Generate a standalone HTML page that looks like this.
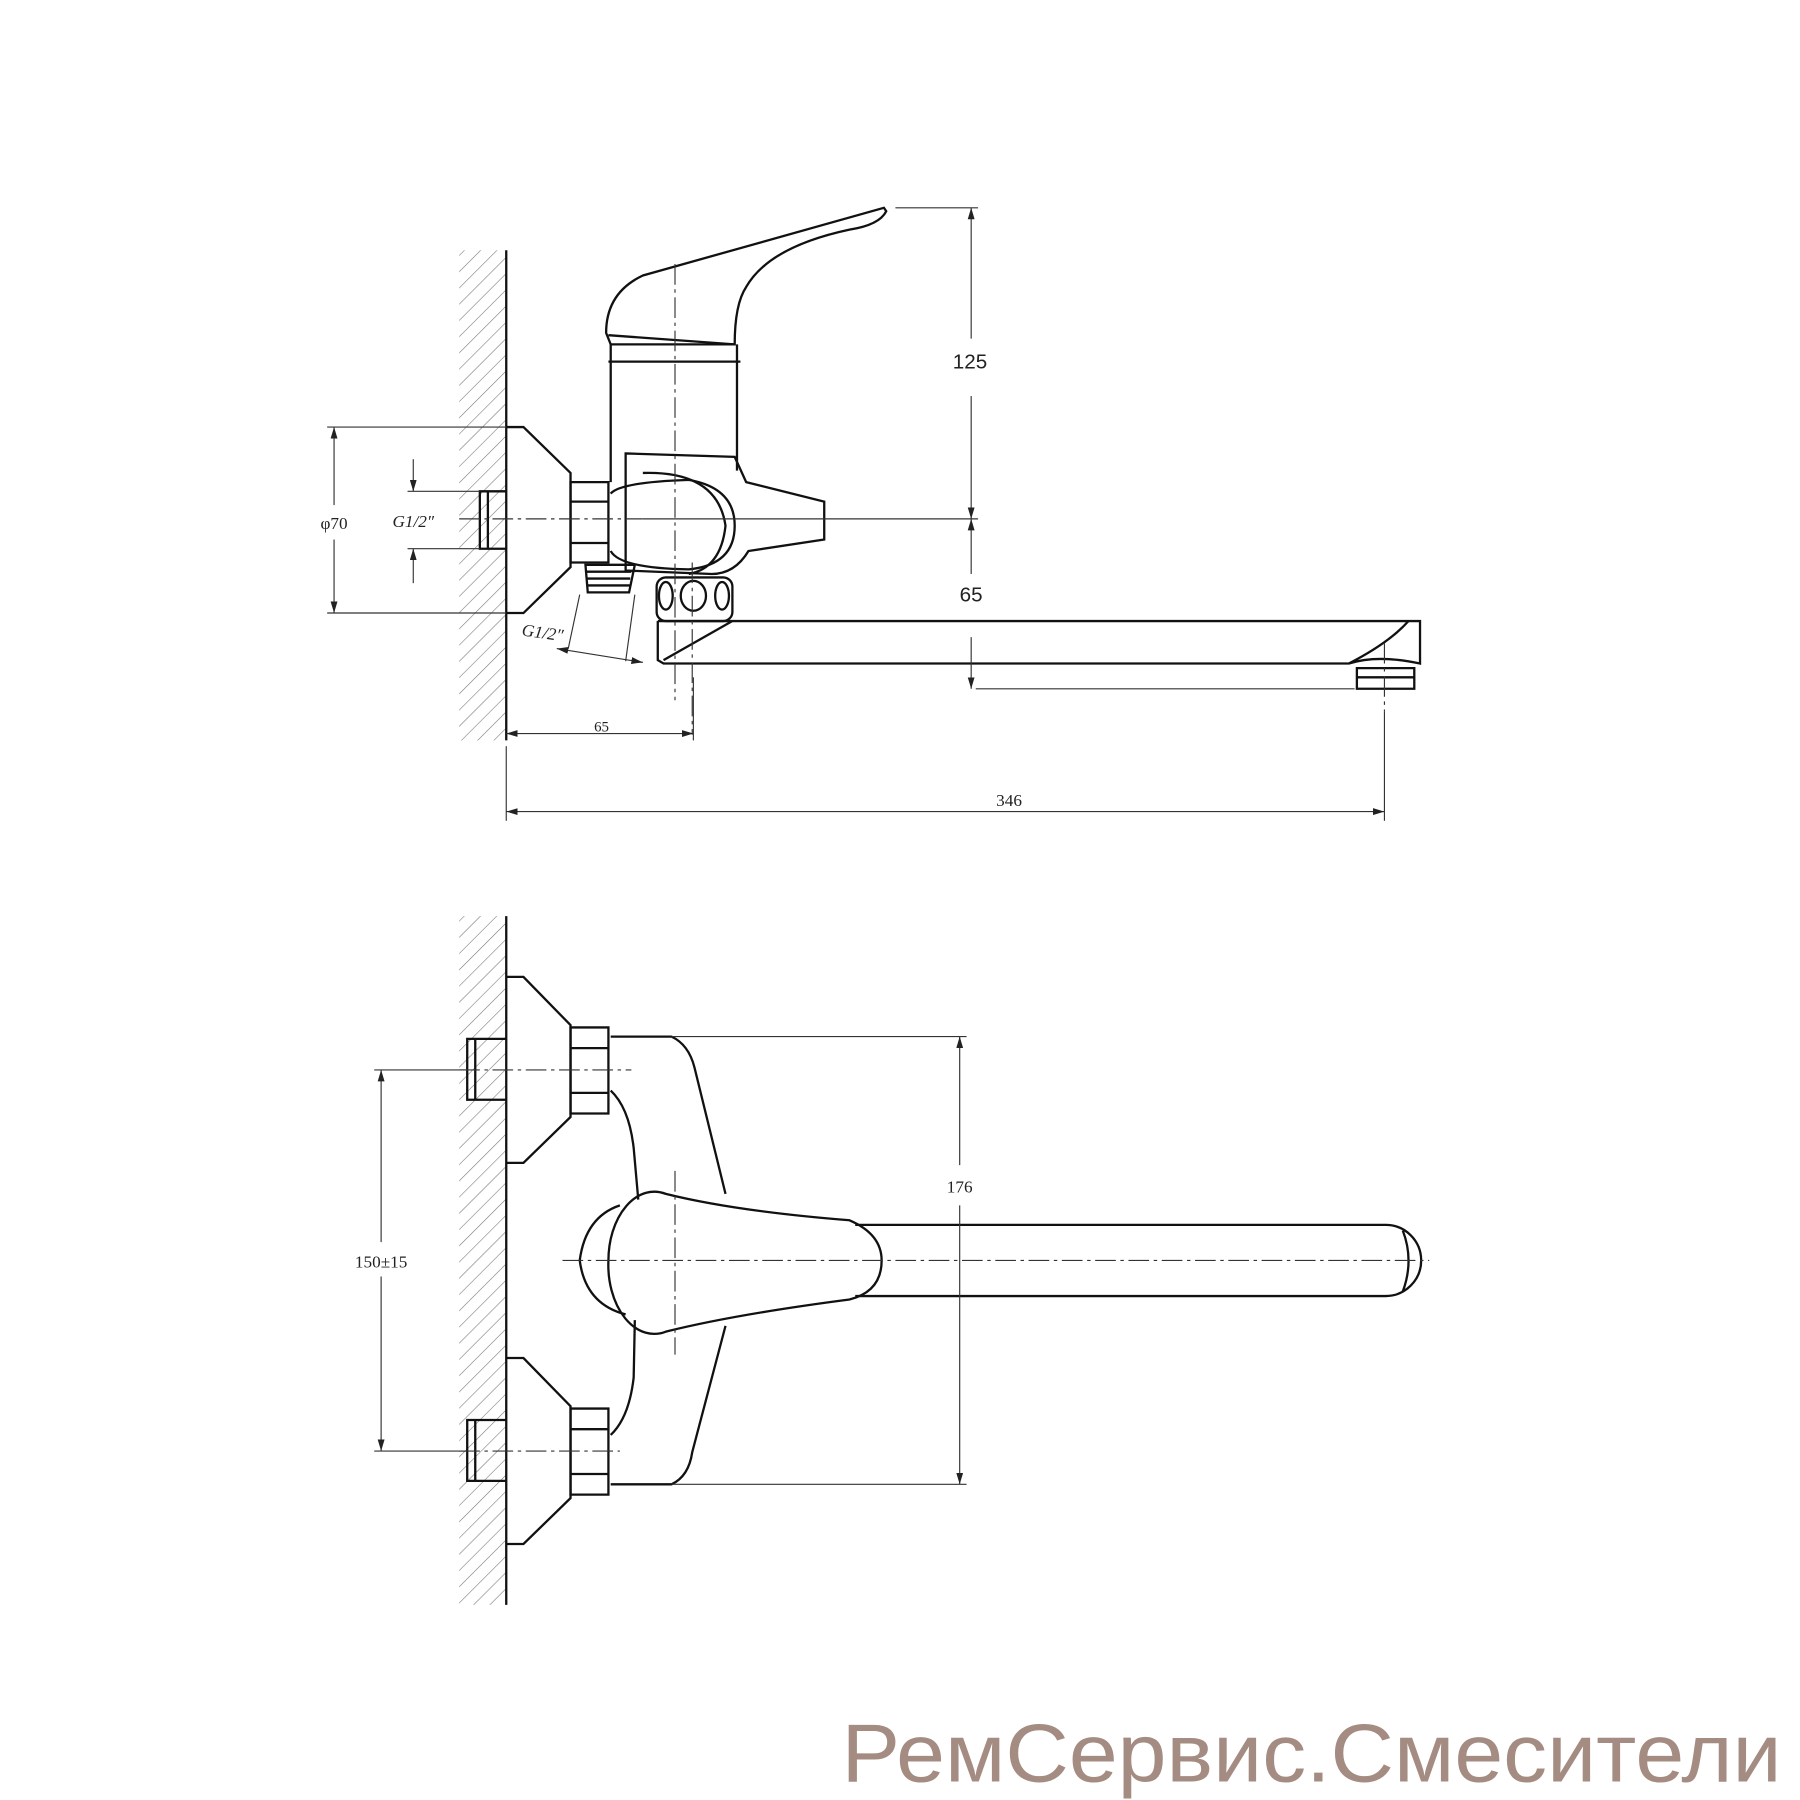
<!DOCTYPE html>
<html><head><meta charset="utf-8"><style>
html,body{margin:0;padding:0;background:#fff}
svg{display:block}
.s{font-family:"Liberation Serif",serif;fill:#222}
.ss{font-family:"Liberation Sans",sans-serif;fill:#222}
</style></head><body>
<svg width="1800" height="1800" viewBox="0 0 1568 1568" xmlns="http://www.w3.org/2000/svg">
<defs>
<pattern id="h" width="10" height="10" patternUnits="userSpaceOnUse" patternTransform="rotate(45)">
<line x1="0" y1="0" x2="0" y2="10" stroke="#777" stroke-width="1"/>
</pattern>
<marker id="a" markerWidth="10" markerHeight="6" refX="10" refY="3" orient="auto-start-reverse" markerUnits="userSpaceOnUse"><path d="M0,0 L10,3 L0,6z" fill="#222"/></marker>
</defs>
<g fill="none" stroke="#111" stroke-width="2">
<rect x="400" y="218" width="41" height="427" fill="url(#h)" stroke="none"/>
<line x1="441" y1="218" x2="441" y2="645"/>
<path d="M441,372 L456,372 L497,412 L497,494 L456,534 L441,534"/>
<path d="M441,428 L418,428 L418,478 L441,478 M425,428 L425,478"/>
<path d="M497,420 L530,420 L530,490 L497,490 Z M497,437 L530,437 M497,473 L530,473"/>
<path d="M532,300 L532,420 M642,300 L642,410 M530,315 L645,315"/>
<path d="M528,290 Q528,255 560,240 L770,181 L772,184 Q766,196 740,200 Q670,215 650,250 Q640,265 640,300 L532,300 Z"/>
<path d="M530,292 L640,300"/>
<path d="M545,395 L640,398 L650,420 L718,437 L718,470 L652,480 Q640,500 620,500 L545,497 Z"/>
<path d="M532,430 Q540,420 600,418 Q640,425 640,458 Q640,492 600,496 Q540,495 532,480"/>
<path d="M560,412 Q625,410 632,458 Q628,495 600,500"/>
<path d="M510,492 L553,492 L548,516 L512,516 Z M511,498 L550,498 M511,504 L549,504 M511,510 L549,510"/>
<rect x="572" y="503" width="66" height="38" rx="8"/>
<ellipse cx="580" cy="519" rx="6" ry="12"/><ellipse cx="604" cy="519" rx="11" ry="13"/><ellipse cx="629" cy="519" rx="6" ry="12"/>
<path d="M573,541 L573,575 L578,578 L1175,578 Q1200,570 1237,578 L1237,541 L1227,541 Q1210,560 1175,578 M573,541 L1228,541 M638,541 L578,575"/>
<path d="M1182,582 L1232,582 L1232,600 L1182,600 Z M1182,590 L1232,590"/>
</g>
<g fill="none" stroke="#333" stroke-width="1" stroke-dasharray="18,4,3,4">
<line x1="588" y1="230" x2="588" y2="610"/>
<line x1="603" y1="490" x2="603" y2="640"/>
<line x1="400" y1="452" x2="560" y2="452"/>
<line x1="1206" y1="560" x2="1206" y2="620"/>
</g>
<g fill="none" stroke="#333" stroke-width="1">
<line x1="560" y1="452" x2="852" y2="452"/>
<line x1="780" y1="181" x2="852" y2="181"/>
<line x1="846" y1="181" x2="846" y2="295" marker-start="url(#a)"/>
<line x1="846" y1="345" x2="846" y2="452" marker-end="url(#a)"/>
<line x1="846" y1="452" x2="846" y2="500" marker-start="url(#a)"/>
<line x1="846" y1="555" x2="846" y2="600" marker-end="url(#a)"/>
<line x1="850" y1="600" x2="1180" y2="600"/>
<line x1="441" y1="639" x2="604" y2="639" marker-start="url(#a)" marker-end="url(#a)"/>
<line x1="604" y1="590" x2="604" y2="645"/>
<line x1="441" y1="650" x2="441" y2="715"/>
<line x1="1206" y1="620" x2="1206" y2="715"/>
<line x1="441" y1="707" x2="1206" y2="707" marker-start="url(#a)" marker-end="url(#a)"/>
<line x1="285" y1="372" x2="441" y2="372"/><line x1="285" y1="534" x2="441" y2="534"/>
<line x1="291" y1="372" x2="291" y2="440" marker-start="url(#a)"/>
<line x1="291" y1="470" x2="291" y2="534" marker-end="url(#a)"/>
<line x1="355" y1="428" x2="418" y2="428"/><line x1="355" y1="478" x2="418" y2="478"/>
<line x1="360" y1="400" x2="360" y2="428" marker-end="url(#a)"/>
<line x1="360" y1="508" x2="360" y2="478" marker-end="url(#a)"/>
<line x1="505" y1="518" x2="495" y2="565"/><line x1="553" y1="518" x2="545" y2="576"/>
<line x1="485" y1="565" x2="560" y2="577" marker-start="url(#a)" marker-end="url(#a)"/>
</g>
<text class="ss" x="845" y="321" font-size="18" text-anchor="middle">125</text>
<text class="ss" x="846" y="524" font-size="18" text-anchor="middle">65</text>
<text class="s" x="524" y="637" font-size="13" text-anchor="middle">65</text>
<text class="s" x="879" y="702" font-size="15" text-anchor="middle">346</text>
<text class="s" x="291" y="461" font-size="15" text-anchor="middle">φ70</text>
<text class="s" x="360" y="459" font-size="15" text-anchor="middle" font-style="italic">G1/2″</text>
<text class="s" x="472" y="556" font-size="15" text-anchor="middle" font-style="italic" transform="rotate(8 472 556)">G1/2″</text>

<g fill="none" stroke="#111" stroke-width="2">
<rect x="400" y="798" width="41" height="600" fill="url(#h)" stroke="none"/>
<line x1="441" y1="798" x2="441" y2="1398"/>
<path d="M441,851 L456,851 L497,893 L497,973 L456,1013 L441,1013"/>
<path d="M441,1183 L456,1183 L497,1225 L497,1305 L456,1345 L441,1345"/>
<path d="M441,905 L407,905 L407,958 L441,958 M414,905 L414,958"/>
<path d="M441,1237 L407,1237 L407,1290 L441,1290 M414,1237 L414,1290"/>
<path d="M497,895 L530,895 L530,970 L497,970 Z M497,913 L530,913 M497,952 L530,952"/>
<path d="M497,1227 L530,1227 L530,1302 L497,1302 Z M497,1245 L530,1245 M497,1284 L530,1284"/>
<path d="M532,903 L585,903 Q600,910 605,930 L632,1040 M532,950 Q548,965 552,1000 L556,1045"/>
<path d="M532,1293 L585,1293 Q600,1286 603,1265 L632,1155 M532,1250 Q548,1235 552,1200 L553,1150"/>
<path d="M540,1050 Q510,1060 505,1098 Q510,1136 545,1145"/>
<path d="M530,1098 A40,60 0 0 1 580,1040 Q640,1055 740,1063 Q768,1075 768,1098 Q768,1125 740,1132 Q640,1145 580,1160 A40,60 0 0 1 530,1098 Z"/>
<path d="M745,1067 L1207,1067 A31,31 0 0 1 1207,1129 L745,1129"/>
<path d="M1222,1072 Q1232,1098 1222,1125"/>
</g>
<g fill="none" stroke="#333" stroke-width="1" stroke-dasharray="18,4,3,4">
<line x1="400" y1="932" x2="550" y2="932"/>
<line x1="400" y1="1264" x2="540" y2="1264"/>
<line x1="490" y1="1098" x2="1245" y2="1098"/>
<line x1="588" y1="1020" x2="588" y2="1180"/>
</g>
<g fill="none" stroke="#333" stroke-width="1">
<line x1="585" y1="903" x2="842" y2="903"/>
<line x1="585" y1="1293" x2="842" y2="1293"/>
<line x1="836" y1="903" x2="836" y2="1015" marker-start="url(#a)"/>
<line x1="836" y1="1050" x2="836" y2="1293" marker-end="url(#a)"/>
<line x1="326" y1="932" x2="407" y2="932"/><line x1="326" y1="1264" x2="407" y2="1264"/>
<line x1="332" y1="932" x2="332" y2="1082" marker-start="url(#a)"/>
<line x1="332" y1="1112" x2="332" y2="1264" marker-end="url(#a)"/>
</g>
<text class="s" x="836" y="1039" font-size="15" text-anchor="middle">176</text>
<text class="s" x="332" y="1104" font-size="15" text-anchor="middle">150±15</text>

<text x="733" y="1552" font-size="72" style="font-family:'Liberation Sans',sans-serif;fill:#a48c82" textLength="819" lengthAdjust="spacingAndGlyphs">РемСервис.Смесители</text>
</svg>
</body></html>
